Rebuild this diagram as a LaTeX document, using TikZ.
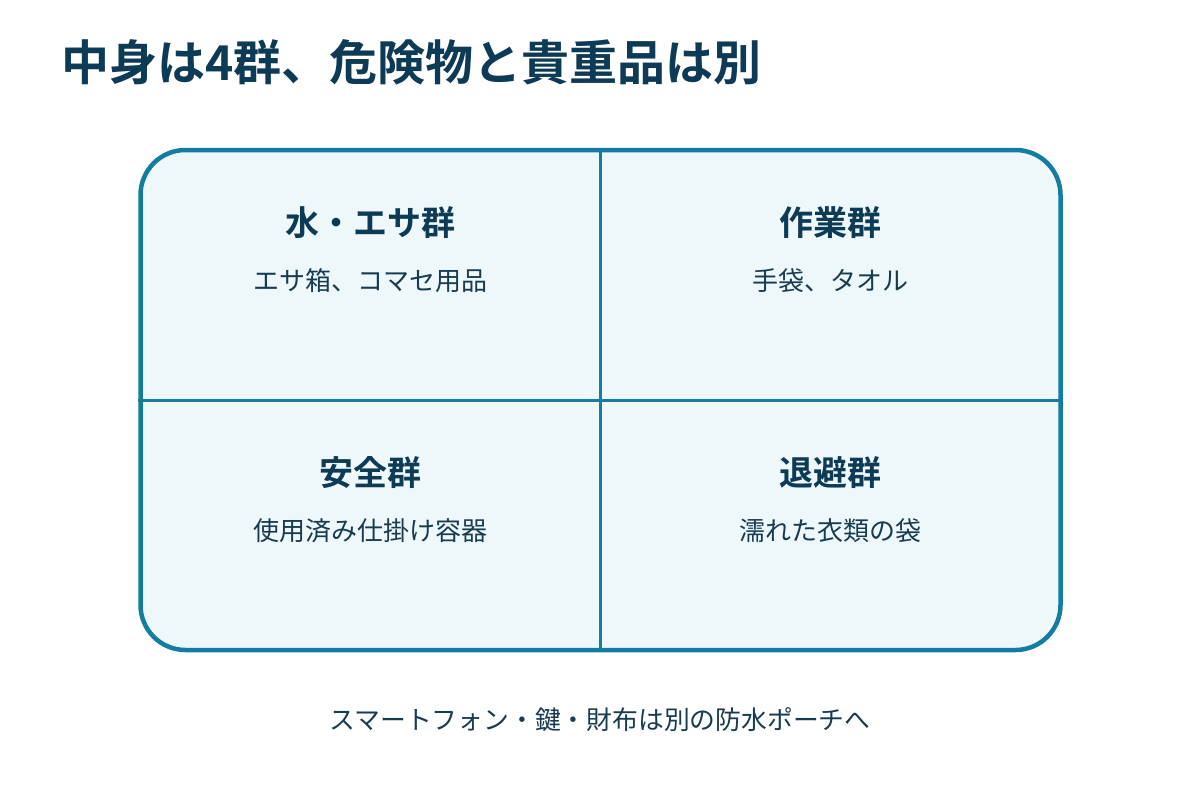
\documentclass[tikz,border=0pt]{standalone}
\usepackage{fontspec}
\setmainfont{Noto Sans CJK JP}
\newfontfamily\jpbold{Noto Sans CJK JP Bold}
\definecolor{ink}{HTML}{0D3A55}
\definecolor{subink}{HTML}{183B50}
\definecolor{frame}{HTML}{127DA1}
\definecolor{cellfill}{HTML}{EEF8FB}
\tikzset{
  titletext/.style={anchor=base west, inner sep=0pt, text=ink, font=\jpbold\fontsize{48}{52}\selectfont},
  headtext/.style={anchor=base, inner sep=0pt, text=ink, font=\jpbold\fontsize{34}{38}\selectfont},
  subtext/.style={anchor=base, inner sep=0pt, text=subink, font=\fontsize{26}{30}\selectfont},
  foottext/.style={anchor=base, inner sep=0pt, text=subink, font=\fontsize{25.8}{30}\selectfont},
  divider/.style={draw=frame, line width=3pt},
}
\begin{document}
\begin{tikzpicture}[x=1pt,y=-1pt]
\useasboundingbox (0,0) rectangle (1200,800);
\fill[white] (0,0) rectangle (1200,800);
\node[titletext] (title) at (61,81) {中身は4群、危険物と貴重品は別};
\node[draw=frame, line width=4.5pt, fill=cellfill, rounded corners=45pt,
      minimum width=920pt, minimum height=500pt, inner sep=0pt] (box) at (600.5,400) {};
\draw[divider] (box.north) -- (box.south);
\draw[divider] (box.west) -- (box.east);
\node[headtext] (h1) at (370,235) {水・エサ群};
\node[subtext] (s1) at (370,290) {エサ箱、コマセ用品};
\node[headtext] (h2) at (830,235) {作業群};
\node[subtext] (s2) at (830,290) {手袋、タオル};
\node[headtext] (h3) at (370,485) {安全群};
\node[subtext] (s3) at (370,540) {使用済み仕掛け容器};
\node[headtext] (h4) at (830,485) {退避群};
\node[subtext] (s4) at (830,540) {濡れた衣類の袋};
\node[foottext] (foot) at (600,729) {スマートフォン・鍵・財布は別の防水ポーチへ};
\end{tikzpicture}
\end{document}
